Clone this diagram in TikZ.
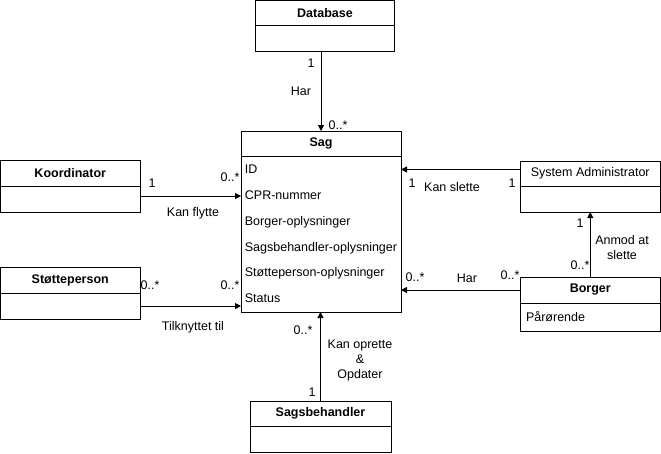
\documentclass[tikz,border=0pt]{standalone}
\usepackage{fontspec}
\setmainfont{Liberation Sans}
\usetikzlibrary{arrows.meta,positioning}
\newcommand{\umlfont}{\fontsize{12.5}{15}\selectfont}

\begin{document}
\begin{tikzpicture}[x=1pt,y=-1pt,font=\umlfont,
  classhead/.style={draw,line width=1pt,outer sep=0pt,inner sep=0pt,minimum height=25pt,font=\umlfont\bfseries},
  classbody/.style={draw,line width=1pt,outer sep=0pt,inner sep=0pt,minimum height=26pt},
  assoc/.style={line width=1pt,-{Triangle[length=6pt,width=6pt]}}]
\useasboundingbox (0,0) rectangle (661,453);
% klasser
\node[classhead,minimum width=139pt,anchor=north] (dbh) at (325,0.5) {Database};
\node[classbody,minimum width=139pt,below=0pt of dbh] (dbb) {};
\node[classhead,minimum width=160pt,anchor=north] (sagh) at (321,131) {Sag};
\node[classbody,minimum width=160pt,minimum height=156pt,below=0pt of sagh,align=left,
  font=\fontsize{12.5}{25.8}\selectfont] (sagb)
  {ID\\CPR-nummer\\Borger-oplysninger\\Sagsbehandler-oplysninger\\St\o tteperson-oplysninger\\Status};
\node[classhead,minimum width=139.5pt,minimum height=26pt,anchor=north] (koh) at (70.25,160) {Koordinator};
\node[classbody,minimum width=139.5pt,below=0pt of koh] (kob) {};
\node[classhead,minimum width=139.5pt,minimum height=26pt,anchor=north] (sth) at (70.25,267) {St\o tteperson};
\node[classbody,minimum width=139.5pt,below=0pt of sth] (stb) {};
\node[classhead,minimum width=140.5pt,anchor=north,font=\umlfont] (sah) at (590.25,161) {System Administrator};
\node[classbody,minimum width=140.5pt,below=0pt of sah] (sab) {};
\node[classhead,minimum width=140.5pt,minimum height=26pt,anchor=north] (boh) at (590.25,277) {Borger};
\node[classbody,minimum width=140.5pt,minimum height=28pt,below=0pt of boh,
  text width=128.5pt,inner xsep=6pt,align=left] (bob) {P\aa r\o rende};
\node[classhead,minimum width=141pt,anchor=north] (sbh) at (320.5,401) {Sagsbehandler};
\node[classbody,minimum width=141pt,minimum height=26.5pt,below=0pt of sbh] (sbb) {};

% associationer
\draw[assoc] (dbb.south -| sagh.north) -- (sagh.north);
\draw[assoc] ([yshift=3pt]kob.east) -- ([yshift=3pt]kob.east -| sagb.west);
\draw[assoc] (stb.east) -- (stb.east -| sagb.west);
\draw[assoc] ([yshift=4pt]sah.west) -- ([yshift=4pt]sah.west -| sagb.east);
\draw[assoc] (boh.west) -- (boh.west -| sagb.east);
\draw[assoc] (boh.north) -- (boh.north |- sab.south);
\draw[assoc] (sbh.north) -- (sbh.north |- sagb.south);

% multipliciteter og navne
\node (dbm1) at (311,63) {1};
\node (dbnavn) at (301,91) {Har};
\node (dbm2) at (338,125) {0..*};
\node (kom1) at (152,183) {1};
\node (kom2) at (230,177) {0..*};
\node (konavn) at (193,213) {Kan flytte};
\node (stm1) at (150,285) {0..*};
\node (stm2) at (230,285) {0..*};
\node (stnavn) at (193,327) {Tilknyttet til};
\node (sam1) at (412,183) {1};
\node (sanavn) at (452,187) {Kan slette};
\node (sam2) at (512,183) {1};
\node (bom1) at (415,277) {0..*};
\node (bonavn) at (467,278) {Har};
\node (bom2) at (510,275) {0..*};
\node (bsm1) at (580,223) {1};
\node[align=center] (bsnavn) at (622,247.5) {Anmod at\\slette};
\node (bsm2) at (580,265) {0..*};
\node (sbm1) at (303,330) {0..*};
\node[align=center] (sbnavn) at (360,360) {Kan oprette\\\&\\Opdater};
\node (sbm2) at (312,392) {1};
\end{tikzpicture}
\end{document}
